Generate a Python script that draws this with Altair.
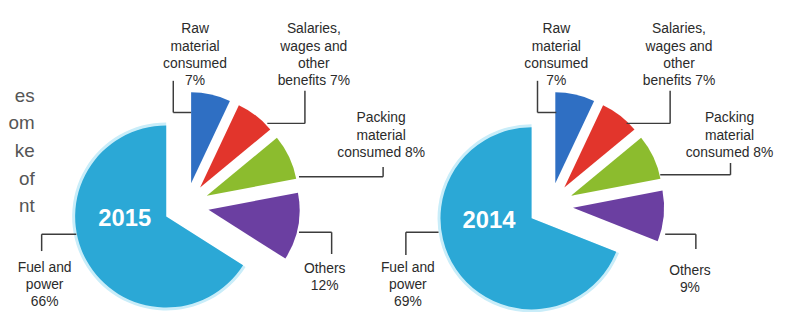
import altair as alt
import pandas as pd

# ---------------- data ----------------
categories = [
    "Raw material consumed",
    "Salaries, wages and other benefits",
    "Packing material consumed",
    "Others",
    "Fuel and power",
]
years = ["2015", "2014"]
share_2015 = [7, 7, 8, 12, 66]
share_2014 = [7, 7, 8, 9, 69]
shares = {"2015": share_2015, "2014": share_2014}

# label wording (per category), value inserted from the share lists
label_templates = [
    "Raw\nmaterial\nconsumed\n{v}%",
    "Salaries,\nwages and\nother\nbenefits {v}%",
    "Packing\nmaterial\nconsumed {v}%",
    "Others\n{v}%",
    "Fuel and\npower\n{v}%",
]
side_text = "es\nom\nke\nof\nnt"

# ---------------- styling / layout ----------------
colors = ["#2f6fc3", "#e2352c", "#8cbc2e", "#6b3fa1", "#2ba8d6"]
halo_color = "#c9edf9"
W, H = 779, 304
pie_cx = {"2015": 180, "2014": 548}
pie_cy = 198
R = 92
EXPLODE = 23
FONT = "Liberation Sans"

# label anchors (center x, top y) per year, per category
label_pos = {
    "2015": [(189, 13), (309, 13), (377, 103), (320, 255), (37, 254)],
    "2014": [(554, 13), (678, 13), (729, 103), (689, 257), (404, 254)],
}
# leader lines: list of segments per year, per category
leader_segs = {
    "2015": [
        [(167, 72, 167, 104), (167, 104, 185, 104)],
        [(300, 82, 300, 115), (300, 115, 262, 115)],
        [(379, 159, 379, 169), (379, 169, 294, 169)],
        [(294, 225, 327, 225), (327, 225, 327, 247)],
        [(69, 227, 34, 227), (34, 227, 34, 244)],
    ],
    "2014": [
        [(535, 72, 535, 104), (535, 104, 554, 104)],
        [(669, 82, 669, 115), (669, 115, 625, 115)],
        [(730, 155, 730, 167), (730, 167, 659, 167)],
        [(664, 227, 695, 227), (695, 227, 695, 242)],
        [(435, 225, 402, 225), (402, 225, 402, 248)],
    ],
}
year_pos = {"2015": (118, 212), "2014": (486, 214)}

# ---------------- tables ----------------
pie_df = pd.DataFrame(
    [
        {"year": y, "category": c, "idx": i, "share": shares[y][i]}
        for y in years
        for i, c in enumerate(categories)
    ]
)
label_df = pd.DataFrame(
    [
        {
            "x": label_pos[y][i][0],
            "y": label_pos[y][i][1],
            "text": label_templates[i].format(v=shares[y][i]),
        }
        for y in years
        for i in range(len(categories))
    ]
)
seg_df = pd.DataFrame(
    [
        {"x": a, "y": b, "x2": c, "y2": d}
        for y in years
        for segs in leader_segs[y]
        for (a, b, c, d) in segs
    ]
)
year_df = pd.DataFrame(
    [{"x": year_pos[y][0], "y": year_pos[y][1], "text": y} for y in years]
)
side_df = pd.DataFrame([{"x": 27, "y": 78, "text": side_text}])

noscale_x = lambda f: alt.X(f, scale=None, axis=None)
noscale_y = lambda f: alt.Y(f, scale=None, axis=None)

base = (
    alt.Chart(pie_df)
    .transform_window(
        cum="sum(share)",
        groupby=["year"],
        sort=[alt.SortField("idx")],
        frame=[None, 0],
    )
    .transform_joinaggregate(total="sum(share)", groupby=["year"])
    .transform_calculate(
        t1="datum.cum / datum.total * 2 * PI",
        t0="(datum.cum - datum.share) / datum.total * 2 * PI",
        bx=f"datum.year == '2015' ? {pie_cx['2015']} : {pie_cx['2014']}",
    )
    .transform_calculate(mid="(datum.t0 + datum.t1) / 2")
    .transform_calculate(
        cx=f"datum.bx + {EXPLODE} * sin(datum.mid)",
        cy=f"{pie_cy} - {EXPLODE} * cos(datum.mid)",
    )
)

enc = dict(
    theta=alt.Theta("t0:Q", scale=None),
    theta2="t1:Q",
    x=noscale_x("cx:Q"),
    y=noscale_y("cy:Q"),
)

halo = base.transform_filter("datum.idx == 4").mark_arc(
    radius=R + 3, color=halo_color
).encode(**enc)

pie = base.mark_arc(radius=R).encode(
    color=alt.Color(
        "category:N",
        scale=alt.Scale(domain=categories, range=colors),
        legend=None,
    ),
    **enc,
)

leaders = alt.Chart(seg_df).mark_rule(color="#3c3c3c", strokeWidth=1.5).encode(
    x=noscale_x("x:Q"), y=noscale_y("y:Q"), x2="x2:Q", y2="y2:Q"
)

labels = alt.Chart(label_df).mark_text(
    lineBreak="\n",
    align="center",
    baseline="top",
    lineHeight=17.5,
    fontSize=14,
    font=FONT,
    color="#2b2b2b",
).encode(x=noscale_x("x:Q"), y=noscale_y("y:Q"), text="text:N")

year_text = alt.Chart(year_df).mark_text(
    align="center",
    baseline="middle",
    fontSize=24,
    fontWeight="bold",
    font=FONT,
    color="#ffffff",
).encode(x=noscale_x("x:Q"), y=noscale_y("y:Q"), text="text:N")

side = alt.Chart(side_df).mark_text(
    lineBreak="\n",
    align="right",
    baseline="top",
    lineHeight=28,
    fontSize=19,
    font=FONT,
    color="#555555",
).encode(x=noscale_x("x:Q"), y=noscale_y("y:Q"), text="text:N")

chart = (
    alt.layer(halo, pie, leaders, labels, year_text, side)
    .properties(
        width=W,
        height=H,
        padding=0,
        autosize=alt.AutoSizeParams(type="none"),
    )
    .configure_view(stroke=None)
)

chart.save("out.html", embed_options={"renderer": "svg", "actions": False})
